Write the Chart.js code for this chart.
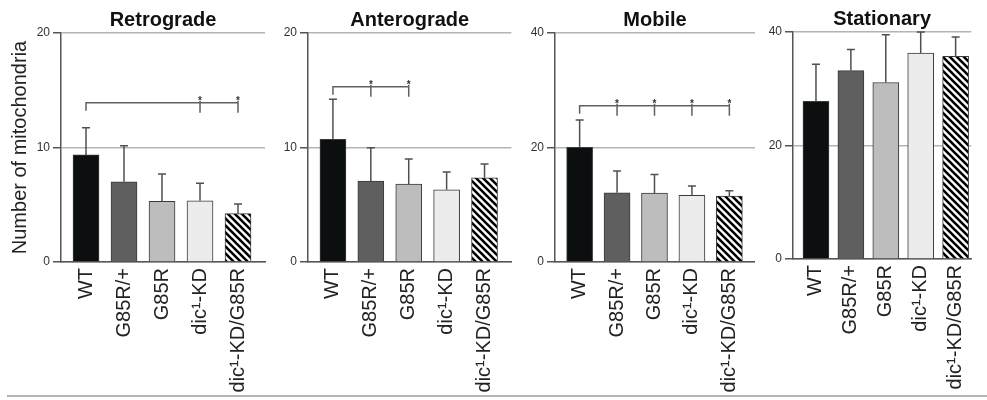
<!DOCTYPE html>
<html>
<head>
<meta charset="utf-8">
<script src="https://cdn.jsdelivr.net/npm/chart.js@4.4.0/dist/chart.umd.min.js"></script>
<style>
  html, body { margin: 0; padding: 0; background: #fff; }
  #wrap { position: relative; width: 987px; height: 400px; overflow: hidden; }
  #wrap canvas { position: absolute; top: 0; }
  #baseLine { position: absolute; left: 7px; top: 395px; width: 980px; height: 0; border-top: 2px solid #b4b4b4; }
</style>
</head>
<body>
<div id="wrap">
  <canvas id="retroChart"></canvas>
  <canvas id="anteroChart"></canvas>
  <canvas id="mobileChart"></canvas>
  <canvas id="stationaryChart"></canvas>
  <div id="baseLine"></div>
</div>
<script>
// Genotypes (x categories)
const categories = ['WT', 'G85R/+', 'G85R', 'dic\u00B9-KD', 'dic\u00B9-KD/G85R'];

// Means and SD
const retroMean = [9.35, 7.01, 5.30, 5.35, 4.22];
const retroSd = [2.38, 3.15, 2.39, 1.52, 0.85];
const anteroMean = [10.72, 7.07, 6.80, 6.30, 7.36];
const anteroSd = [3.50, 2.91, 2.19, 1.55, 1.19];
const mobileMean = [20.03, 12.08, 12.03, 11.63, 11.50];
const mobileSd = [4.77, 3.80, 3.27, 1.63, 0.93];
const stationaryMean = [27.8, 33.2, 31.1, 36.3, 35.7];
const stationarySd = [6.5, 3.7, 8.4, 3.7, 3.4];

// Y tick labels
const yTicksSmall = [0, 10, 20];
const yTicksLarge = [0, 20, 40];

// Significance vs WT (category indices) and bracket height (data units)
const retroSig = [3, 4];
const retroBracket = 13.9;
const anteroSig = [1, 2];
const anteroBracket = 15.3;
const mobileSig = [1, 2, 3, 4];
const mobileBracket = 27.3;

Chart.defaults.font.family = '"Liberation Sans", Arial, Helvetica, sans-serif';

// Diagonal hatch for the double mutant bar
function makeHatch() {
    const n = 7;
    const c = document.createElement('canvas');
    c.width = n;
    c.height = n;
    const g = c.getContext('2d');
    g.fillStyle = '#fff';
    g.fillRect(0, 0, n, n);
    g.strokeStyle = '#000';
    g.lineWidth = 2.6;
    g.beginPath();
    g.moveTo(-1, -1); g.lineTo(n + 1, n + 1);
    g.moveTo(-n, 0); g.lineTo(n, 2 * n);
    g.moveTo(0, -n); g.lineTo(2 * n, n);
    g.stroke();
    return g.createPattern(c, 'repeat');
}

const barColors = ['#0b0f0f', '#5f5f5f', '#bdbdbd', '#ebeceb', makeHatch()];

// Error bars (mean + SD) and significance brackets
const errorBarPlugin = {
    id: 'errorBars',
    afterDatasetsDraw(chart, args, opts) {
        const { ctx, scales: { x, y } } = chart;
        const meta = chart.getDatasetMeta(0);
        ctx.save();
        ctx.strokeStyle = '#505050';
        ctx.lineWidth = 1.5;
        meta.data.forEach((bar, i) => {
            const top = y.getPixelForValue(opts.mean[i] + opts.sd[i]);
            ctx.beginPath();
            ctx.moveTo(bar.x, bar.y);
            ctx.lineTo(bar.x, top);
            ctx.moveTo(bar.x - 4, top);
            ctx.lineTo(bar.x + 4, top);
            ctx.stroke();
        });

        if (opts.sig && opts.sig.length) {
            const yb = y.getPixelForValue(opts.bracketY);
            const x0 = x.getPixelForValue(0);
            const x1 = x.getPixelForValue(Math.max(...opts.sig));
            ctx.strokeStyle = '#606060';
            ctx.beginPath();
            ctx.moveTo(x0, yb + 8);
            ctx.lineTo(x0, yb);
            ctx.lineTo(x1, yb);
            opts.sig.forEach((idx) => {
                const xs = x.getPixelForValue(idx);
                ctx.moveTo(xs, yb - 2);
                ctx.lineTo(xs, yb + 10);
            });
            ctx.stroke();
            ctx.fillStyle = '#333';
            ctx.font = 'bold 10px "Liberation Sans", Arial, sans-serif';
            ctx.textAlign = 'center';
            ctx.textBaseline = 'alphabetic';
            opts.sig.forEach((idx) => {
                ctx.fillText('*', x.getPixelForValue(idx), yb + 1);
            });
        }
        ctx.restore();
    }
};

function buildChart(canvasId, panel, box) {
    const canvas = document.getElementById(canvasId);
    canvas.width = box.width;
    canvas.height = 400;
    canvas.style.left = box.left + 'px';

    return new Chart(canvas, {
        type: 'bar',
        data: {
            datasets: [{
                data: panel.mean.map((v, i) => ({ x: i, y: v })),
                backgroundColor: barColors,
                borderColor: '#3a3a3a',
                borderWidth: 1,
                barThickness: 26
            }]
        },
        options: {
            responsive: false,
            animation: false,
            devicePixelRatio: 1,
            layout: { padding: { left: 0, right: box.padRight, top: 0, bottom: 0 } },
            plugins: {
                legend: { display: false },
                tooltip: { enabled: false },
                title: {
                    display: true,
                    text: panel.title,
                    fullSize: false,
                    color: '#111',
                    font: { size: 20, weight: 'bold' },
                    padding: { top: box.titleTop, bottom: box.titleBottom }
                },
                errorBars: {
                    mean: panel.mean,
                    sd: panel.sd,
                    sig: panel.sig,
                    bracketY: panel.bracketY
                }
            },
            scales: {
                x: {
                    type: 'linear',
                    offset: false,
                    min: -0.658,
                    max: box.xMax,
                    afterBuildTicks: (s) => { s.ticks = categories.map((c, i) => ({ value: i })); },
                    afterFit: (s) => { s.height = box.xHeight; },
                    grid: { display: false, drawTicks: false },
                    border: { display: true, color: '#555', width: 1.5 },
                    ticks: {
                        autoSkip: false,
                        minRotation: 90,
                        maxRotation: 90,
                        padding: 6,
                        color: '#222',
                        font: { size: 20 },
                        callback: (v) => categories[v]
                    }
                },
                y: {
                    min: 0,
                    max: panel.yTicks[panel.yTicks.length - 1],
                    afterBuildTicks: (s) => { s.ticks = panel.yTicks.map((v) => ({ value: v })); },
                    afterFit: (s) => { s.width = box.yWidth; },
                    grid: { color: '#b4b4b4', lineWidth: 1.5, tickColor: '#555', tickLength: 8, tickWidth: 1.5 },
                    border: { color: '#555', width: 1.5 },
                    ticks: { padding: 3, color: '#333', font: { size: 12 } },
                    title: {
                        display: !!panel.yTitle,
                        text: panel.yTitle || '',
                        color: '#222',
                        font: { size: 20 },
                        padding: { top: 8, bottom: 0 }
                    }
                }
            }
        },
        plugins: [errorBarPlugin]
    });
}

buildChart('retroChart',
    { title: 'Retrograde', mean: retroMean, sd: retroSd, yTicks: yTicksSmall, sig: retroSig, bracketY: retroBracket, yTitle: 'Number of mitochondria' },
    { left: 0, width: 270, yWidth: 61, padRight: 5, xMax: 4.71, xHeight: 138, titleTop: 8, titleBottom: 1 });

buildChart('anteroChart',
    { title: 'Anterograde', mean: anteroMean, sd: anteroSd, yTicks: yTicksSmall, sig: anteroSig, bracketY: anteroBracket },
    { left: 270, width: 245, yWidth: 38, padRight: 3, xMax: 4.71, xHeight: 138, titleTop: 8, titleBottom: 1 });

buildChart('mobileChart',
    { title: 'Mobile', mean: mobileMean, sd: mobileSd, yTicks: yTicksLarge, sig: mobileSig, bracketY: mobileBracket },
    { left: 515, width: 245, yWidth: 40, padRight: 2, xMax: 4.684, xHeight: 138, titleTop: 8, titleBottom: 1 });

buildChart('stationaryChart',
    { title: 'Stationary', mean: stationaryMean, sd: stationarySd, yTicks: yTicksLarge, sig: [], bracketY: 0 },
    { left: 760, width: 227, yWidth: 33, padRight: 0, xMax: 4.447, xHeight: 141, titleTop: 7, titleBottom: 1 });
</script>
</body>
</html>
